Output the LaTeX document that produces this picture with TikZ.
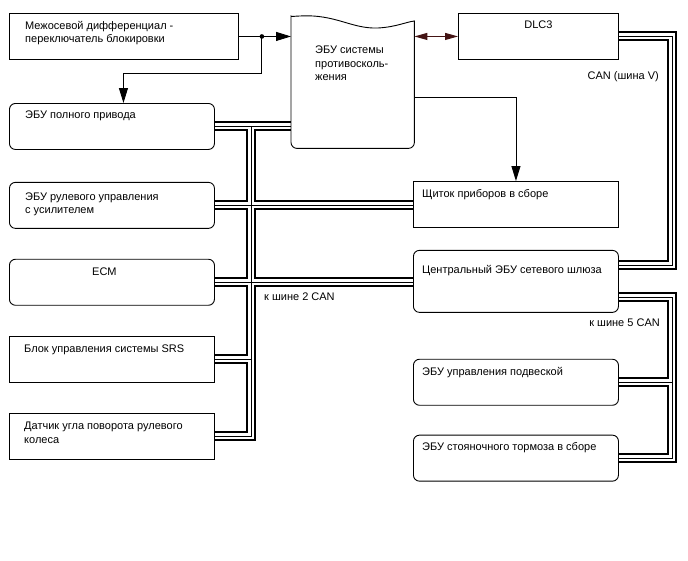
\documentclass[tikz,border=0pt]{standalone}
\usepackage{fontspec}
\setmainfont{Liberation Sans}
\usetikzlibrary{arrows.meta,positioning,calc,backgrounds}
\definecolor{linkred}{RGB}{68,20,20}

\begin{document}
\begin{tikzpicture}[
  x=1pt, y=-1pt,
  font=\fontsize{11}{13.5}\selectfont,
  >={Triangle[length=15pt,width=9pt]},
  box/.style ={draw, line width=0.9pt, fill=white, anchor=north west, inner sep=0pt,
               minimum width=205pt, minimum height=46pt},
  ecu/.style ={box, rounded corners=6pt},
  txt/.style ={inner sep=0pt, align=left, anchor=north west},
  flow/.style={->, line width=0.9pt},
  diag/.style={{Triangle[length=13pt,width=7pt]}-{Triangle[length=13pt,width=7pt]},
               line width=1pt, linkred},
  busout/.style ={line width=10pt, black},
  busin/.style  ={line width=6pt, white},
  buswire/.style={line width=0.8pt, black},
  node distance=30pt,
]

% ---------- Top row ----------
\node[box, minimum width=229pt] (mdiff) at (9,13) {};
\node[txt, below right=8pt and 16pt of mdiff.north west] (mdiff-t)
  {Межосевой дифференциал -\\переключатель блокировки};

\node[inner sep=0pt, minimum width=123pt, minimum height=132pt, anchor=north west] (abs) at (291,16) {};
\draw[line width=0.9pt, fill=white]
  ($(abs.north east)+(0,5)$)
  [rounded corners=6pt] -- (abs.south east) -- (abs.south west) -- ($(abs.north west)+(0,6)$)
  [sharp corners]
  .. controls ($(abs.north west)+(0,1)$) and ($(abs.north west)+(4,0)$) .. ($(abs.north west)+(9,0)$)
  .. controls ($(abs.north west)+(45,-2)$) and ($(abs.north west)+(60,13)$) .. ($(abs.north west)+(87,12)$)
  .. controls ($(abs.north west)+(105,11)$) and ($(abs.north west)+(115,6)$) .. ($(abs.north east)+(0,5)$)
  -- cycle;
\node[txt, below right=30pt and 24pt of abs.north west] (abs-t)
  {ЭБУ системы\\противосколь-\\жения};

\node[box, minimum width=160pt] (dlc) at (458,13) {};
\node[txt, below=8pt of dlc.north] (dlc-t) {DLC3};

% ---------- Left column ----------
\node[ecu] (awd) at (9,103) {};
\node[txt, below right=8pt and 16pt of awd.north west] (awd-t) {ЭБУ полного привода};

\node[ecu, below=32pt of awd] (eps) {};
\node[txt, below right=10.5pt and 16pt of eps.north west] (eps-t)
  {ЭБУ рулевого управления\\с усилителем};

\node[ecu, below=of eps] (ecm) {};
\node[txt, below right=9pt and 83pt of ecm.north west] (ecm-t) {ECM};

\node[box, below=of ecm] (srs) {};
\node[txt, below right=8.5pt and 15pt of srs.north west] (srs-t) {Блок управления системы SRS};

\node[box, below=of srs] (sas) {};
\node[txt, below right=9.5pt and 15pt of sas.north west] (sas-t)
  {Датчик угла поворота рулевого\\колеса};

% ---------- Right column ----------
\node[box] (meter) at (413,181) {};
\node[txt, below right=8.5pt and 9pt of meter.north west] (meter-t) {Щиток приборов в сборе};

\node[ecu, below=22pt of meter, minimum height=62pt] (gw) {};
\node[txt, below right=15.5pt and 9pt of gw.north west] (gw-t) {Центральный ЭБУ сетевого шлюза};

\node[ecu, below=46pt of gw] (susp) {};
\node[txt, below right=8pt and 9pt of susp.north west] (susp-t) {ЭБУ управления подвеской};

\node[ecu, below=29pt of susp] (pkb) {};
\node[txt, below right=8pt and 9pt of pkb.north west] (pkb-t) {ЭБУ стояночного тормоза в сборе};

% ---------- Bus labels ----------
\node[txt, anchor=north east] (canv) at (659,71)  {CAN (шина V)};
\node[txt]                    (can2) at (264,293) {к шине 2 CAN};
\node[txt, anchor=north east] (can5) at (660,319) {к шине 5 CAN};

% ---------- CAN buses ----------
\coordinate (b2) at (251,0);
\coordinate (bv) at (672,0);
\coordinate (gwV) at ($(gw.east)+(0,-16)$);
\coordinate (gw5) at ($(gw.east)+(0,16)$);

\begin{scope}[on background layer]
  \fill[white] (0,0) rectangle (688,560);
  \foreach \s in {busout,busin,buswire}{
    \draw[\s] (awd.east) -- (awd.east -| abs.west);
    \draw[\s] (b2 |- awd.east) -- (b2 |- sas.east) -- (sas.east);
    \draw[\s] (eps.east) -- (eps.east -| meter.west);
    \draw[\s] (ecm.east) -- (ecm.east -| gw.west);
    \draw[\s] (srs.east) -- (srs.east -| b2);
    \draw[\s] (dlc.east) -| (bv |- gwV) -- (gwV);
    \draw[\s] (gw5) -| (bv |- pkb.east) -- (pkb.east);
    \draw[\s] (susp.east) -- (susp.east -| bv);
  }
\end{scope}

% ---------- Signal lines ----------
\coordinate (j1) at ($(mdiff.east)+(23,0)$);
\coordinate (awdin) at ($(awd.north)+(11.5,0)$);
\coordinate (absout) at ($(abs.south east)+(0,-51)$);

\draw[flow] (mdiff.east) -- (mdiff.east -| abs.west);
\fill (j1) circle (2.3pt);
\draw[flow] (j1) -- ++(0,37) -| (awdin);
\draw[diag] (dlc.west -| abs.east) -- (dlc.west);
\draw[flow] (absout) -| (meter.north);

\useasboundingbox (0,0) rectangle (688,560);
\end{tikzpicture}
\end{document}
